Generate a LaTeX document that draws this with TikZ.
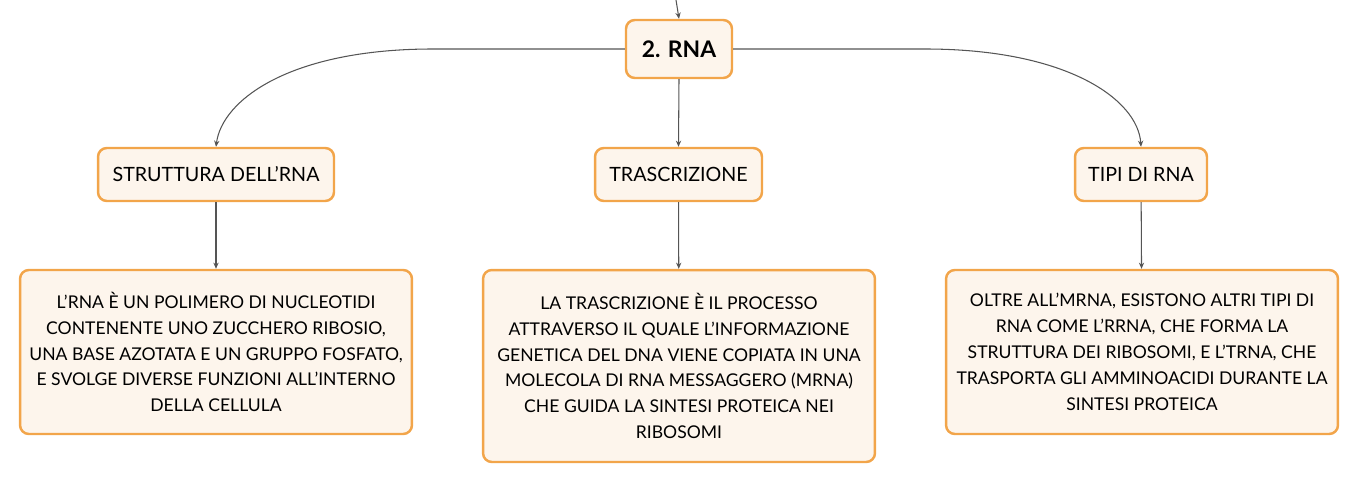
\documentclass[tikz,border=0pt]{standalone}
\usepackage{fontspec}
\setmainfont{Lato}
\usepackage{xcolor}
\usetikzlibrary{arrows.meta}
\definecolor{boxfill}{HTML}{FDF5EC}
\definecolor{boxline}{HTML}{F2A54A}
\definecolor{linkgray}{HTML}{555555}
\tikzstyle{topic} = [draw=boxline,fill=boxfill,line width=1.4pt,rounded corners=5pt,align=center,inner sep=0pt,text=black]
\tikzstyle{link} = [linkgray,line width=0.6pt,-{Stealth[length=3.5pt,width=3pt]}]

\begin{document}
\begin{tikzpicture}[x=0.02cm,y=-0.02cm]
	\useasboundingbox (0,0) rectangle (1359,483);
	
	% Root:
	\node [topic,minimum width=2.12cm,minimum height=1.16cm,font=\fontsize{13}{15}\selectfont\bfseries] (rna) at (679,49) {2. RNA};
	\coordinate (in) at (676,0);
	\draw [link] (in) -- (rna.north);
	
	% Topics:
	\begin{scope}[font=\fontsize{11.2}{14}\selectfont]
		\node [topic,minimum width=4.72cm,minimum height=1.06cm] (struttura) at (216,174.5) {STRUTTURA DELL'RNA};
		\node [topic,minimum width=3.34cm,minimum height=1.06cm] (trascrizione) at (678.5,174.5) {TRASCRIZIONE};
		\node [topic,minimum width=2.64cm,minimum height=1.06cm] (tipi) at (1141,174.5) {TIPI DI RNA};
	\end{scope}
	
	\draw [link] (rna.west) -- (433,49) .. controls (290,49) and (222,100) .. (struttura.north);
	\draw [link] (rna.east) -- (925,49) .. controls (1068,49) and (1138,100) .. (tipi.north);
	\draw [link] (rna.south) -- (trascrizione.north);
	
	% Details:
	\begin{scope}[font=\fontsize{10}{14.7}\selectfont]
		\node [topic,minimum width=7.84cm,minimum height=3.28cm] (d1) at (216,352) {L'RNA È UN POLIMERO DI NUCLEOTIDI\\CONTENENTE UNO ZUCCHERO RIBOSIO,\\UNA BASE AZOTATA E UN GRUPPO FOSFATO,\\E SVOLGE DIVERSE FUNZIONI ALL'INTERNO\\DELLA CELLULA};
		\node [topic,minimum width=7.84cm,minimum height=3.84cm] (d2) at (679,366) {LA TRASCRIZIONE È IL PROCESSO\\ATTRAVERSO IL QUALE L'INFORMAZIONE\\GENETICA DEL DNA VIENE COPIATA IN UNA\\MOLECOLA DI RNA MESSAGGERO (MRNA)\\CHE GUIDA LA SINTESI PROTEICA NEI\\RIBOSOMI};
		\node [topic,minimum width=7.84cm,minimum height=3.28cm] (d3) at (1142,352) {OLTRE ALL'MRNA, ESISTONO ALTRI TIPI DI\\RNA COME L'RRNA, CHE FORMA LA\\STRUTTURA DEI RIBOSOMI, E L'TRNA, CHE\\TRASPORTA GLI AMMINOACIDI DURANTE LA\\SINTESI PROTEICA};
	\end{scope}
	
	\draw [link] (struttura) -- (d1);
	\draw [link] (trascrizione) -- (d2);
	\draw [link] (tipi) -- (d3);
	
\end{tikzpicture}
\end{document}
